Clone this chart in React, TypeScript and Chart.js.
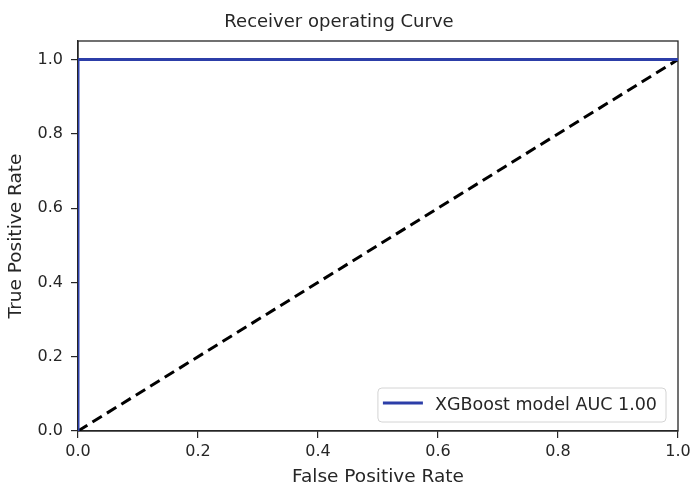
import React, { useEffect, useRef } from "react";
import { Chart, registerables } from "chart.js";

Chart.register(...registerables);

// ROC curve points for the model
const fpr = [0, 0, 1];
const tpr = [0, 1, 1];
// chance diagonal
const chanceFpr = [0, 1];
const chanceTpr = [0, 1];

const xTicks = [0, 0.2, 0.4, 0.6, 0.8, 1.0];
const yTicks = [0, 0.2, 0.4, 0.6, 0.8, 1.0];

const chartTitle = "Receiver operating Curve";
const modelLabel = "XGBoost model AUC 1.00";
const xTitle = "False Positive Rate";
const yTitle = "True Positive Rate";

const FONT = "'DejaVu Sans', sans-serif";
const INK = "#262626";
const BLUE = "#2c3ea8";

// full box around the plotting area
const frame = {
  id: "frame",
  beforeDatasetsDraw(chart: any) {
    const { ctx, chartArea: a } = chart;
    ctx.save();
    ctx.strokeStyle = INK;
    ctx.lineWidth = 1.3;
    ctx.strokeRect(a.left, a.top, a.right - a.left, a.bottom - a.top);
    ctx.restore();
  },
};

// legend box in the lower right corner of the plot
const cornerLegend = {
  id: "cornerLegend",
  afterDatasetsDraw(chart: any) {
    const { ctx, chartArea: a } = chart;
    const ds = chart.data.datasets[0];
    ctx.save();
    ctx.font = `17.5px ${FONT}`;
    const tw = ctx.measureText(ds.label).width;
    const lineLen = 40;
    const w = 5 + lineLen + 12 + tw + 9;
    const h = 34;
    const x = a.right - 12 - w;
    const y = a.bottom - 9 - h;
    const r = 4;
    ctx.beginPath();
    ctx.moveTo(x + r, y);
    ctx.arcTo(x + w, y, x + w, y + h, r);
    ctx.arcTo(x + w, y + h, x, y + h, r);
    ctx.arcTo(x, y + h, x, y, r);
    ctx.arcTo(x, y, x + w, y, r);
    ctx.closePath();
    ctx.fillStyle = "rgba(255,255,255,0.85)";
    ctx.fill();
    ctx.strokeStyle = "#d4d4d4";
    ctx.lineWidth = 1;
    ctx.stroke();
    ctx.strokeStyle = ds.borderColor;
    ctx.lineWidth = 3;
    ctx.beginPath();
    ctx.moveTo(x + 5, y + h / 2 - 2);
    ctx.lineTo(x + 5 + lineLen, y + h / 2 - 2);
    ctx.stroke();
    ctx.fillStyle = INK;
    ctx.textBaseline = "middle";
    ctx.fillText(ds.label, x + 5 + lineLen + 12, y + h / 2);
    ctx.restore();
  },
};

export default function App() {
  const ref = useRef<HTMLCanvasElement>(null);

  useEffect(() => {
    document.body.style.margin = "0";
    const chart = new Chart(ref.current!, {
      type: "scatter",
      data: {
        datasets: [
          {
            label: modelLabel,
            data: fpr.map((v, i) => ({ x: v, y: tpr[i] })),
            showLine: true,
            borderColor: BLUE,
            backgroundColor: BLUE,
            borderWidth: 3,
            pointRadius: 0,
            clip: 0,
          },
          {
            label: "chance",
            data: chanceFpr.map((v, i) => ({ x: v, y: chanceTpr[i] })),
            showLine: true,
            borderColor: "#000000",
            backgroundColor: "#000000",
            borderWidth: 3,
            borderDash: [11, 6],
            pointRadius: 0,
            clip: 0,
          },
        ],
      },
      options: {
        animation: false,
        responsive: true,
        maintainAspectRatio: false,
        layout: { padding: { left: 0, right: 12, top: 0, bottom: 0 } },
        plugins: {
          legend: { display: false },
          tooltip: { enabled: false },
          title: {
            display: true,
            text: chartTitle,
            color: INK,
            font: { family: FONT, size: 18, weight: "normal" },
            padding: { top: 11.5, bottom: 7.9 },
          },
        },
        scales: {
          x: {
            type: "linear",
            min: 0,
            max: 1,
            afterBuildTicks: (s: any) => {
              s.ticks = xTicks.map((v) => ({ value: v }));
            },
            afterFit: (s: any) => {
              s.height = 60;
              s.paddingLeft = 0;
              s.paddingRight = 0;
            },
            ticks: {
              color: INK,
              font: { family: FONT, size: 16 },
              padding: 4,
              maxRotation: 0,
              callback: (v: any) => Number(v).toFixed(1),
            },
            grid: {
              drawOnChartArea: false,
              drawTicks: true,
              tickLength: 7,
              color: INK,
              lineWidth: 1.2,
            },
            border: { color: INK, width: 1.3 },
            title: {
              display: true,
              text: xTitle,
              color: INK,
              font: { family: FONT, size: 18.5 },
              padding: { top: 0, bottom: 3 },
            },
          },
          y: {
            type: "linear",
            min: 0,
            max: 1.05,
            afterBuildTicks: (s: any) => {
              s.ticks = yTicks.map((v) => ({ value: v }));
            },
            afterFit: (s: any) => {
              s.width = 78;
              s.paddingTop = 0;
              s.paddingBottom = 0;
            },
            ticks: {
              color: INK,
              font: { family: FONT, size: 16 },
              padding: 8,
              callback: (v: any) => Number(v).toFixed(1),
            },
            grid: {
              drawOnChartArea: false,
              drawTicks: true,
              tickLength: 7,
              color: INK,
              lineWidth: 1.2,
            },
            border: { color: INK, width: 1.3 },
            title: {
              display: true,
              text: yTitle,
              color: INK,
              font: { family: FONT, size: 18.5 },
              padding: { top: 5.4, bottom: 0 },
            },
          },
        },
      },
      plugins: [frame, cornerLegend],
    });
    return () => chart.destroy();
  }, []);

  return (
    <div style={{ width: 690, height: 491, position: "relative" }}>
      <canvas ref={ref} />
    </div>
  );
}
